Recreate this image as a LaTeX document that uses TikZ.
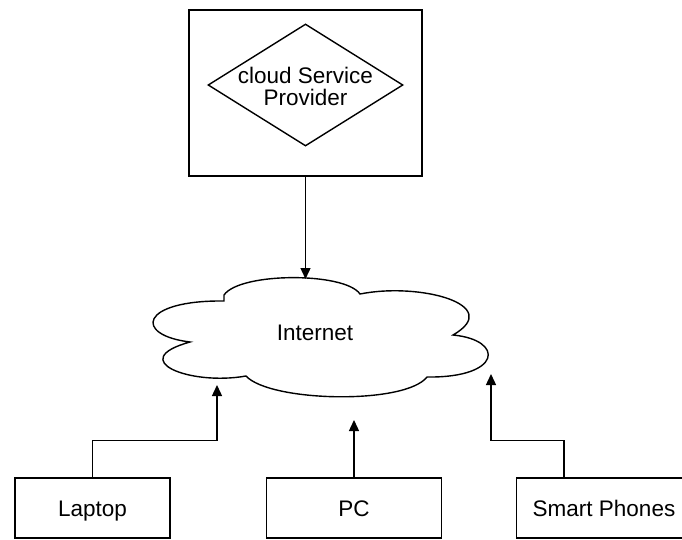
\documentclass[tikz,border=0pt]{standalone}
\usepackage{fontspec}
\setmainfont{Liberation Sans}
\usetikzlibrary{arrows.meta,shapes.geometric}
\begin{document}
\begin{tikzpicture}[x=1pt,y=-1pt, line width=1.4pt,
  txt/.style={font=\fontsize{22.5}{22}\selectfont, align=center, inner sep=0pt},
  devbox/.style={draw, rectangle, minimum height=60pt, inner sep=0pt, txt, text height=16pt, text depth=0pt},
  conn/.style={-{Triangle[length=11pt,width=10pt]}, line width=1.4pt}]
\useasboundingbox (0,0) rectangle (682,539);
\fill[white] (0,0) rectangle (682,539);
% provider
\node[draw, rectangle, minimum width=233pt, minimum height=166pt, inner sep=0pt] (csp) at (305.5,93) {};
\node[draw, diamond, minimum width=195pt, minimum height=122pt, inner sep=0pt] (dia) at (305.5,85) {};
\node[txt] (csptext) at (305.5,86) {cloud Service\\Provider};
% cloud
\draw (224,301) -- (224,295)
  .. controls (240,272) and (345,272) .. (360,294)
  .. controls (420,282) and (505,305) .. (453,335)
  .. controls (505,340) and (502,378) .. (427,377)
  .. controls (405,405) and (270,402) .. (246,376)
  .. controls (190,386) and (125,360) .. (190,342)
  .. controls (133,335) and (140,300) .. (224,301) -- cycle;
\node[txt] (internet) at (315,333) {Internet};
\coordinate (cloudtop) at (305.5,279);
\coordinate (lapin) at (217,385);
\coordinate (pcin) at (354,420);
\coordinate (spin) at (491,374);
% devices
\node[devbox, minimum width=155pt] (laptop) at (92.5,508) {Laptop};
\node[devbox, minimum width=175pt] (pc) at (354,508) {PC};
\node[devbox, minimum width=175pt] (sp) at (604,508) {Smart Phones};
% connectors
\draw[conn] (csp.south) -- (cloudtop);
\draw[conn] (laptop.north) -- ++(0,-37) -| (lapin);
\draw[conn] (pc.north) -- (pcin);
\draw[conn] ([xshift=-40pt]sp.north) -- ++(0,-37) -| (spin);
\end{tikzpicture}
\end{document}
